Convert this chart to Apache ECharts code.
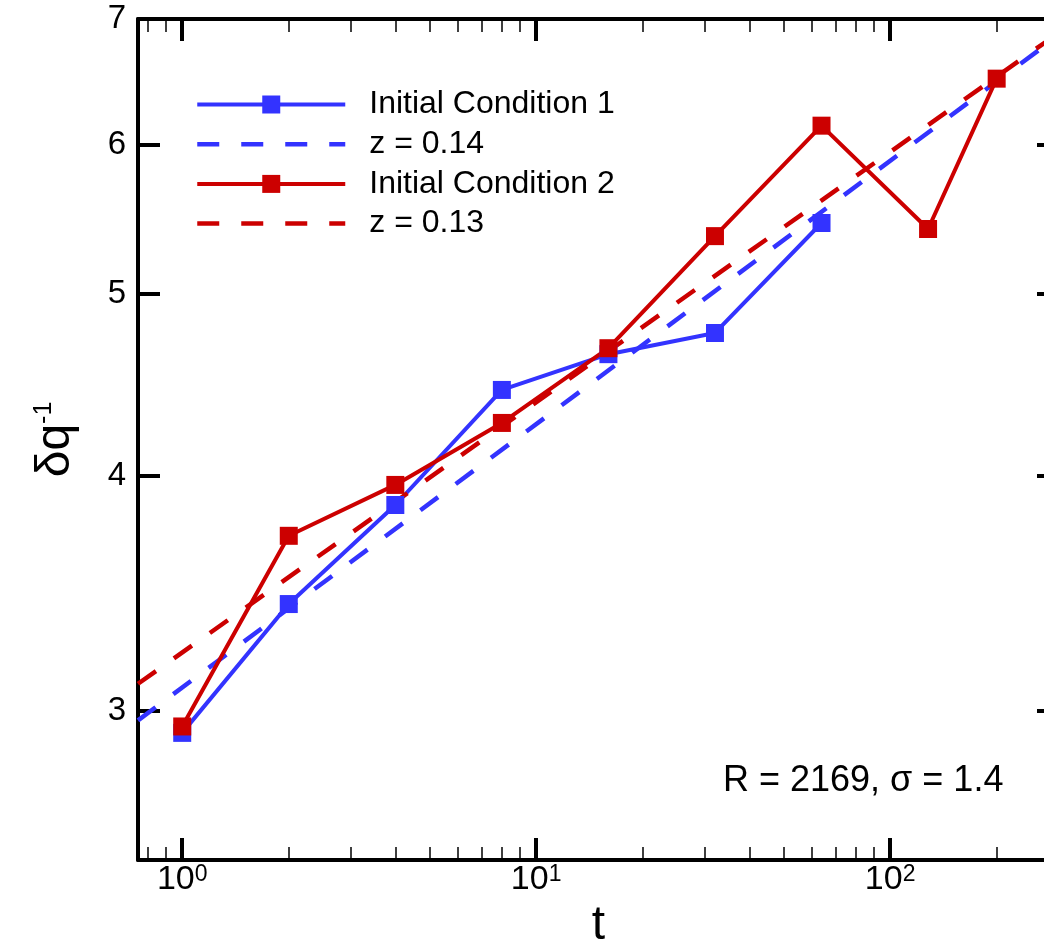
<!DOCTYPE html>
<html>
<head>
<meta charset="utf-8">
<script src="https://cdn.jsdelivr.net/npm/echarts@6/dist/echarts.min.js"></script>
<style>
html,body{margin:0;padding:0;background:#fff;}
#chart{width:1044px;height:943px;}
</style>
</head>
<body>
<div id="chart"></div>
<script>
// ---- data ----
const tIC1 = [1, 2, 4, 8, 16, 32, 64];
const valuesIC1 = [2.921, 3.420, 3.861, 4.445, 4.644, 4.766, 5.453];
const tIC2 = [1, 2, 4, 8, 16, 32, 64, 128, 200];
const valuesIC2 = [2.944, 3.718, 3.957, 4.269, 4.678, 5.366, 6.143, 5.413, 6.507];
// power-law fit lines (end points)
const tFit1 = [0.75, 300];
const valuesFit1 = [2.966, 6.863];
const tFit2 = [0.75, 300];
const valuesFit2 = [3.102, 6.885];
const seriesNames = ['Initial Condition 1', 'z = 0.14', 'Initial Condition 2', 'z = 0.13'];
const xMajorTicks = [1, 10, 100];
const xMinorTicks = [0.8, 0.9, 2, 3, 4, 5, 6, 7, 8, 9, 20, 30, 40, 50, 60, 70, 80, 90, 200];
const yTicks = [3, 4, 5, 6, 7];
const annotation = 'R = 2169, \u03c3 = 1.4';

const BLUE = '#3333ff';
const RED = '#cc0000';
const FONT = 'Liberation Sans';

function zip(a, b) { return a.map((v, i) => [v, b[i]]); }

const X_MIN = 0.75, X_MAX = 300, Y_MIN = 2.5, Y_MAX = 7;

function xAxisDef(position, major, withLabel) {
  return {
    type: 'log', logBase: 10, min: X_MIN, max: X_MAX, position: position,
    axisLine: { show: major, onZero: false, lineStyle: { color: '#000', width: 4 } },
    axisTick: major
      ? { show: true, inside: true, length: 22, lineStyle: { color: '#000', width: 4 }, customValues: xMajorTicks }
      : { show: true, inside: true, length: 13, lineStyle: { color: '#000', width: 1.5 }, customValues: xMinorTicks },
    axisLabel: withLabel ? {
      show: true, customValues: xMajorTicks, margin: 3,
      fontSize: 34, fontFamily: FONT, color: '#000',
      formatter: function (v) { return '{m|10}{s|' + Math.round(Math.log10(v)) + '}'; },
      rich: {
        m: { fontSize: 34, fontFamily: FONT, color: '#000', verticalAlign: 'bottom' },
        s: { fontSize: 23, fontFamily: FONT, color: '#000', verticalAlign: 'top' }
      }
    } : { show: false },
    splitLine: { show: false },
    minorTick: { show: false },
    name: withLabel ? 't' : '',
    nameLocation: 'middle', nameGap: 38,
    nameTextStyle: { fontSize: 48, fontFamily: FONT, color: '#000' }
  };
}

function yAxisDef(position, withLabel) {
  return {
    type: 'log', logBase: 10, min: Y_MIN, max: Y_MAX, position: position,
    axisLine: { show: true, onZero: false, lineStyle: { color: '#000', width: 4 } },
    axisTick: { show: true, inside: true, length: 22, lineStyle: { color: '#000', width: 4 }, customValues: yTicks },
    axisLabel: withLabel ? { show: true, customValues: yTicks, margin: 12, fontSize: 33, fontFamily: FONT, color: '#000' } : { show: false },
    splitLine: { show: false },
    name: withLabel ? '{a|\u03b4q}{b|-1}' : '',
    nameLocation: 'middle', nameRotate: 90, nameGap: 58,
    nameTextStyle: {
      rich: {
        a: { fontSize: 48, fontFamily: FONT, color: '#000', verticalAlign: 'bottom' },
        b: { fontSize: 25, fontFamily: FONT, color: '#000', verticalAlign: 'top' }
      }
    }
  };
}

const chart = echarts.init(document.getElementById('chart'), null, { renderer: 'canvas' });
chart.setOption({
  animation: false,
  backgroundColor: '#fff',
  grid: { left: 138, right: -15, top: 19, bottom: 83, containLabel: false, outerBoundsMode: 'none' },
  legend: {
    data: [
      { name: seriesNames[0], lineStyle: { width: 4 } },
      { name: seriesNames[1], lineStyle: { width: 4.5 }, itemStyle: { opacity: 0 } },
      { name: seriesNames[2], lineStyle: { width: 4 } },
      { name: seriesNames[3], lineStyle: { width: 4.5 }, itemStyle: { opacity: 0 } }
    ],
    orient: 'vertical', left: 195, top: 86.5, padding: 0,
    itemWidth: 148, itemHeight: 22.5, itemGap: 3.7,
    lineStyle: { width: 4 },
    textStyle: { fontSize: 32, fontFamily: FONT, color: '#000', lineHeight: 36, padding: [0, 0, 0, 19] },
    selectedMode: false
  },
  xAxis: [
    xAxisDef('bottom', true, true),
    xAxisDef('bottom', false, false),
    xAxisDef('top', true, false),
    xAxisDef('top', false, false)
  ],
  yAxis: [
    yAxisDef('left', true),
    yAxisDef('right', false)
  ],
  series: [
    {
      name: seriesNames[0], type: 'line', xAxisIndex: 0, yAxisIndex: 0,
      data: zip(tIC1, valuesIC1),
      symbol: 'rect', symbolSize: 18, showSymbol: true,
      lineStyle: { color: BLUE, width: 4 }, itemStyle: { color: BLUE }
    },
    {
      name: seriesNames[1], type: 'line', xAxisIndex: 0, yAxisIndex: 0,
      data: zip(tFit1, valuesFit1),
      symbol: 'none',
      lineStyle: { color: BLUE, width: 4.5, type: [22, 22] }, itemStyle: { color: BLUE }
    },
    {
      name: seriesNames[2], type: 'line', xAxisIndex: 0, yAxisIndex: 0,
      data: zip(tIC2, valuesIC2),
      symbol: 'rect', symbolSize: 18, showSymbol: true,
      lineStyle: { color: RED, width: 4 }, itemStyle: { color: RED }
    },
    {
      name: seriesNames[3], type: 'line', xAxisIndex: 0, yAxisIndex: 0,
      data: zip(tFit2, valuesFit2),
      symbol: 'none',
      lineStyle: { color: RED, width: 4.5, type: [22, 22] }, itemStyle: { color: RED }
    }
  ],
  graphic: [
    {
      type: 'text', left: 723, top: 763,
      style: { text: annotation, fontSize: 36, fontFamily: FONT, fill: '#000' }
    }
  ]
});
</script>
</body>
</html>
